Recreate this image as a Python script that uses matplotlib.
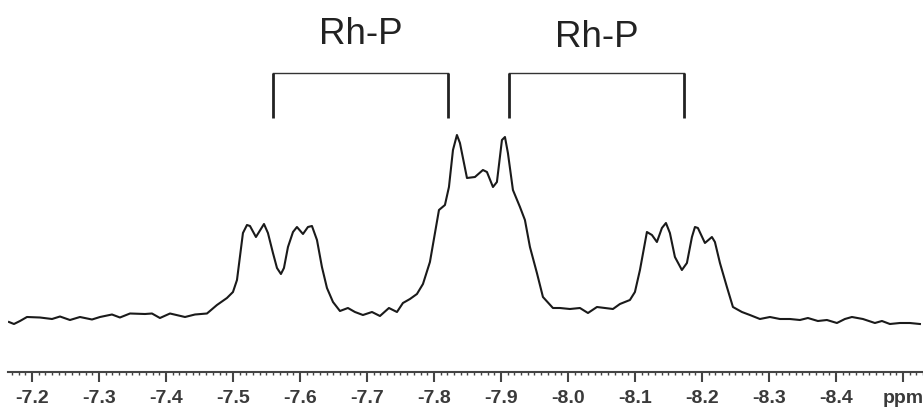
import numpy as np
import matplotlib
matplotlib.use("Agg")
import matplotlib.pyplot as plt
from matplotlib.ticker import MultipleLocator

# 31P NMR trace (ppm, arbitrary intensity)
ppm = [-7.1657, -7.1731, -7.1821, -7.1925, -7.2119, -7.2299, -7.2418, -7.2567,
       -7.2716, -7.2896, -7.3015, -7.3194, -7.3313, -7.3463, -7.3687, -7.3791,
       -7.3910, -7.4060, -7.4284, -7.4433, -7.4612, -7.4761, -7.4910, -7.5000,
       -7.5060, -7.5104, -7.5149, -7.5209, -7.5254, -7.5343, -7.5418, -7.5463,
       -7.5522, -7.5597, -7.5657, -7.5716, -7.5761, -7.5821, -7.5896, -7.5955,
       -7.6045, -7.6119, -7.6179, -7.6254, -7.6328, -7.6403, -7.6493, -7.6597,
       -7.6716, -7.6821, -7.6940, -7.7075, -7.7194, -7.7328, -7.7448, -7.7537,
       -7.7642, -7.7746, -7.7836, -7.7940, -7.8015, -7.8075, -7.8164, -7.8224,
       -7.8284, -7.8343, -7.8388, -7.8493, -7.8612, -7.8731, -7.8791, -7.8881,
       -7.8940, -7.9015, -7.9060, -7.9104, -7.9179, -7.9284, -7.9358, -7.9433,
       -7.9537, -7.9627, -7.9776, -7.9881, -8.0030, -8.0179, -8.0299, -8.0433,
       -8.0552, -8.0672, -8.0776, -8.0925, -8.1000, -8.1075, -8.1179, -8.1254,
       -8.1328, -8.1403, -8.1463, -8.1522, -8.1597, -8.1701, -8.1776, -8.1851,
       -8.1896, -8.1940, -8.2045, -8.2149, -8.2194, -8.2269, -8.2373, -8.2463,
       -8.2597, -8.2716, -8.2866, -8.3015, -8.3164, -8.3313, -8.3463, -8.3582,
       -8.3731, -8.3866, -8.4015, -8.4134, -8.4239, -8.4403, -8.4582, -8.4687,
       -8.4806, -8.4955, -8.5104, -8.5254]
intensity = [3, 1, 4, 8, 7.5, 6, 8.5, 5,
             8, 5.5, 8, 10.5, 7.5, 11.5, 11, 11.5,
             7, 11.5, 8, 10.5, 11.5, 20, 27, 33,
             45, 68, 92, 100, 99, 88, 96, 101,
             92, 72, 57, 51, 57, 78, 93, 98,
             91, 98, 99, 85, 58, 37, 23, 14,
             17, 13, 10, 13, 9, 17, 13, 22,
             26, 31, 41, 63, 92, 115, 120, 138,
             175, 190, 182, 147, 148, 155, 153, 138,
             143, 185, 188, 172, 135, 118, 105, 78,
             52, 28, 17, 17, 16, 17, 12, 18,
             17, 16, 21, 25, 33, 55, 93, 90,
             83, 97, 102, 92, 68, 55, 62, 88,
             98, 97, 82, 88, 83, 62, 38, 18,
             13, 10, 6, 8, 6, 6, 5, 7,
             4, 5, 2, 6, 8, 6, 2, 4,
             1, 2, 2, 1]

major_ticks = [-7.2, -7.3, -7.4, -7.5, -7.6, -7.7, -7.8, -7.9, -8.0, -8.1, -8.2, -8.3, -8.4, -8.5]
tick_labels = ['-7.2', '-7.3', '-7.4', '-7.5', '-7.6', '-7.7', '-7.8', '-7.9', '-8.0', '-8.1',
               '-8.2', '-8.3', '-8.4', 'ppm']

# Rh-P coupling brackets (left ppm, right ppm) and label
brackets = [(-7.56, -7.821), (-7.912, -8.173)]
bracket_label = 'Rh-P'

fig = plt.figure(figsize=(9.23, 4.07), dpi=100)
ax = fig.add_axes([8 / 923, 35 / 407, 915 / 923, 372 / 407])

ax.plot(ppm, intensity, color='#1a1a1a', lw=1.5, solid_joinstyle='round')

# brackets with their labels
label_y = [281, 278]
for (a, b), ty in zip(brackets, label_y):
    ax.plot([a, b], [252, 252], color='#333333', lw=1.0)
    ax.plot([a, a], [252, 207], color='#222222', lw=2.0, solid_capstyle='butt')
    ax.plot([b, b], [252, 207], color='#222222', lw=2.0, solid_capstyle='butt')
    ax.text((a + b) / 2, ty, bracket_label, ha='center', va='baseline',
            fontsize=26.5, family='Liberation Sans', color='#222222')

ax.set_xlim(-7.1642, -8.53)
ax.set_ylim(-47, 325)

for s in ['left', 'right', 'top']:
    ax.spines[s].set_visible(False)
ax.spines['bottom'].set_color('#444444')
ax.spines['bottom'].set_linewidth(1.5)
ax.set_yticks([])

ax.set_xticks(major_ticks)
ax.set_xticklabels(tick_labels, fontsize=14, fontweight='bold',
                   family='Liberation Sans', color='#3a3a3a')
ax.xaxis.set_minor_locator(MultipleLocator(0.01))
ax.tick_params(axis='x', which='major', length=7, width=1.5, color='#444444', pad=6)
ax.tick_params(axis='x', which='minor', length=2.5, width=1.0, color='#444444')

fig.savefig('out.png', dpi=100)
